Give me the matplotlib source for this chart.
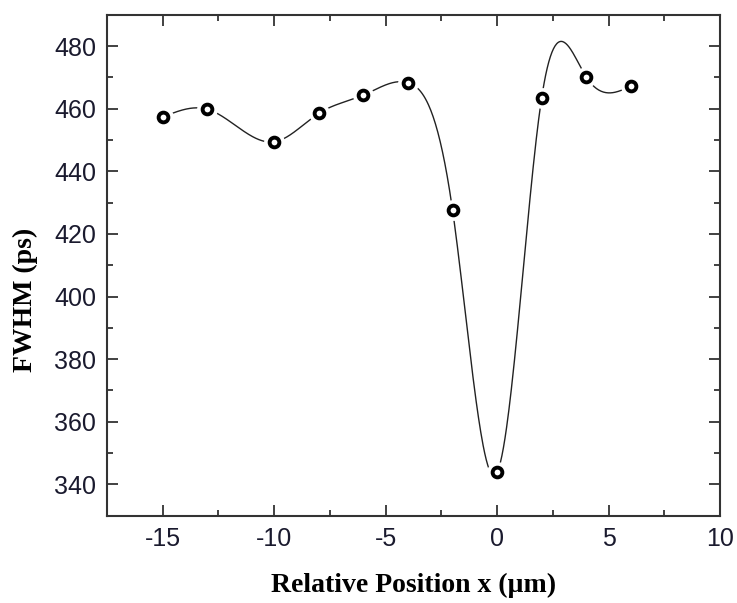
import numpy as np
import matplotlib
matplotlib.use("Agg")
import matplotlib.pyplot as plt
from matplotlib.ticker import MultipleLocator

plt.rcParams["axes.unicode_minus"] = False

# Data
position_um = [-15, -13, -10, -8, -6, -4, -2, 0, 2, 4, 6]
fwhm_ps = [457.3, 459.8, 449.4, 458.5, 464.3, 468.3, 427.7, 343.8, 463.5, 470.1, 467.2]


def natural_spline(x, y, n=600):
    """Natural cubic spline through the points, for drawing the smooth line."""
    x = np.asarray(x, float)
    y = np.asarray(y, float)
    k = len(x)
    h = np.diff(x)
    A = np.zeros((k, k))
    r = np.zeros(k)
    A[0, 0] = A[-1, -1] = 1.0
    for i in range(1, k - 1):
        A[i, i - 1] = h[i - 1]
        A[i, i] = 2 * (h[i - 1] + h[i])
        A[i, i + 1] = h[i]
        r[i] = 6 * ((y[i + 1] - y[i]) / h[i] - (y[i] - y[i - 1]) / h[i - 1])
    m = np.linalg.solve(A, r)
    xs = np.linspace(x[0], x[-1], n)
    idx = np.clip(np.searchsorted(x, xs) - 1, 0, k - 2)
    x0, x1 = x[idx], x[idx + 1]
    hh = x1 - x0
    a = (x1 - xs) / hh
    b = (xs - x0) / hh
    ys = (a * y[idx] + b * y[idx + 1]
          + ((a ** 3 - a) * m[idx] + (b ** 3 - b) * m[idx + 1]) * hh ** 2 / 6)
    return xs, ys


fig = plt.figure(figsize=(7.37, 6.03), dpi=100)
ax = fig.add_axes([107 / 737, 1 - 515.7 / 603, (720 - 107) / 737, (515.7 - 14.7) / 603])

xs, ys = natural_spline(position_um, fwhm_ps)
ax.plot(xs, ys, color="#222222", lw=1.0, zorder=2)
# white halo so the line stops short of each symbol
ax.plot(position_um, fwhm_ps, "o", ms=15, mfc="white", mec="white", mew=0, zorder=3)
ax.plot(position_um, fwhm_ps, "o", ms=7, mfc="white", mec="black", mew=2.8, zorder=4)

ax.set_xlim(-17.5, 10)
ax.set_ylim(330, 490)
ax.xaxis.set_major_locator(MultipleLocator(5))
ax.xaxis.set_minor_locator(MultipleLocator(2.5))
ax.yaxis.set_major_locator(MultipleLocator(20))
ax.yaxis.set_minor_locator(MultipleLocator(10))
ax.tick_params(which="both", direction="in", top=True, right=True, width=1.3,
               colors="#333333", labelcolor="#1a1a2e")
ax.tick_params(which="major", length=8, labelsize=18, pad=8)
ax.tick_params(which="minor", length=4)
for lbl in ax.get_xticklabels() + ax.get_yticklabels():
    lbl.set_family("Liberation Sans")
for s in ax.spines.values():
    s.set_linewidth(1.5)
    s.set_color("#333333")

ax.set_xlabel("Relative Position x (µm)", family="Liberation Serif", fontweight="bold",
              fontsize=20, labelpad=16)
ax.set_ylabel("FWHM (ps)", family="Liberation Serif", fontweight="bold", fontsize=20)
ax.yaxis.set_label_coords(-0.113, 0.43)

fig.savefig("out.png", dpi=100)
